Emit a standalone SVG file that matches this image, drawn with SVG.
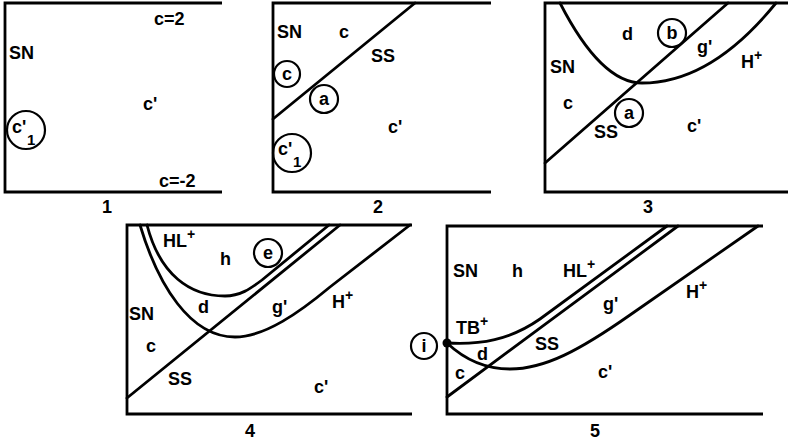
<svg xmlns="http://www.w3.org/2000/svg" width="790" height="441" viewBox="0 0 790 441">
<style>
.fr{fill:none;stroke:#000;stroke-width:2.8;stroke-linejoin:miter}
.cv{fill:none;stroke:#000;stroke-width:2.8;stroke-linecap:round}
.ci{fill:none;stroke:#000;stroke-width:2.2}
text{font-family:"Liberation Sans",Arial,sans-serif;font-weight:bold;font-size:18px;fill:#000}
.m{text-anchor:middle}
.sup{font-size:14px}
.sub{font-size:15px}
</style>
<rect width="790" height="441" fill="#fff"/>

<g id="panel1">
<path class="fr" d="M222,3 H5 V192 H222"/>
<text x="154" y="25">c=2</text>
<text x="9" y="59">SN</text>
<text x="143" y="110">c'</text>
<circle class="ci" cx="26" cy="130" r="19"/>
<text x="12" y="133">c'</text>
<text class="sub" x="27" y="145">1</text>
<text x="159" y="187">c=-2</text>
<text class="m" x="107" y="213">1</text>
</g>

<g id="panel2">
<path class="fr" d="M491,3 H273 V192 H491"/>
<path class="cv" d="M273,119 L415,3"/>
<text x="277" y="38">SN</text>
<text x="339" y="38">c</text>
<text x="371" y="62">SS</text>
<circle class="ci" cx="287" cy="74" r="13"/>
<text class="m" x="287" y="80">c</text>
<circle class="ci" cx="324" cy="99" r="14"/>
<text class="m" x="324" y="105">a</text>
<text x="388" y="133">c'</text>
<circle class="ci" cx="292" cy="153" r="19"/>
<text x="278" y="155">c'</text>
<text class="sub" x="293" y="167">1</text>
<text class="m" x="378" y="213">2</text>
</g>

<g id="panel3">
<path class="fr" d="M788,3 H545 V192 H788"/>
<path class="cv" d="M545,163 L728,3"/>
<path class="cv" d="M560,3 Q601,83 642,83 Q711,83 776,3"/>
<text x="622" y="40">d</text>
<circle class="ci" cx="672" cy="33" r="14"/>
<text class="m" x="672" y="39">b</text>
<text x="697" y="53">g'</text>
<text x="741" y="68">H<tspan class="sup" dy="-8">+</tspan></text>
<text x="550" y="73">SN</text>
<text x="563" y="109">c</text>
<circle class="ci" cx="629" cy="113" r="14"/>
<text class="m" x="629" y="119">a</text>
<text x="594" y="138">SS</text>
<text x="687" y="132">c'</text>
<text class="m" x="648" y="213">3</text>
</g>

<g id="panel4">
<path class="fr" d="M412,225 H127 V414 H412"/>
<path class="cv" d="M127,398 L340,225"/>
<path class="cv" d="M147,225 C160,275 190,296 225,296 C240,296 250,289 262,280 L329,225"/>
<path class="cv" d="M140,225 C158,285 190,337 235,337 C265,337 300,312 330,287 L410,225"/>
<text x="163" y="247">HL<tspan class="sup" dy="-8">+</tspan></text>
<text x="220" y="265">h</text>
<circle class="ci" cx="268" cy="253" r="14"/>
<text class="m" x="268" y="259">e</text>
<text x="129" y="320">SN</text>
<text x="198" y="313">d</text>
<text x="272" y="313">g'</text>
<text x="332" y="308">H<tspan class="sup" dy="-8">+</tspan></text>
<text x="146" y="352">c</text>
<text x="168" y="385">SS</text>
<text x="314" y="393">c'</text>
<text class="m" x="250" y="437">4</text>
</g>

<g id="panel5">
<path class="fr" d="M763,226 H447 V414 H763"/>
<path class="cv" d="M447,397 L678,226"/>
<path class="cv" d="M447,343 C480,345 510,340 540,319 L667,226"/>
<path class="cv" d="M447,343 C465,360 485,369 510,369 C545,369 580,350 630,315 L758,226"/>
<circle cx="447" cy="343" r="4.5" fill="#000"/>
<circle class="ci" cx="424" cy="346" r="13"/>
<text class="m" x="424" y="352">i</text>
<text x="453" y="277">SN</text>
<text x="512" y="277">h</text>
<text x="563" y="277">HL<tspan class="sup" dy="-8">+</tspan></text>
<text x="603" y="310">g'</text>
<text x="686" y="298">H<tspan class="sup" dy="-8">+</tspan></text>
<text x="456" y="334">TB<tspan class="sup" dy="-8">+</tspan></text>
<text x="535" y="350">SS</text>
<text x="477" y="360">d</text>
<text x="455" y="379">c</text>
<text x="598" y="378">c'</text>
<text class="m" x="595" y="437">5</text>
</g>
</svg>
